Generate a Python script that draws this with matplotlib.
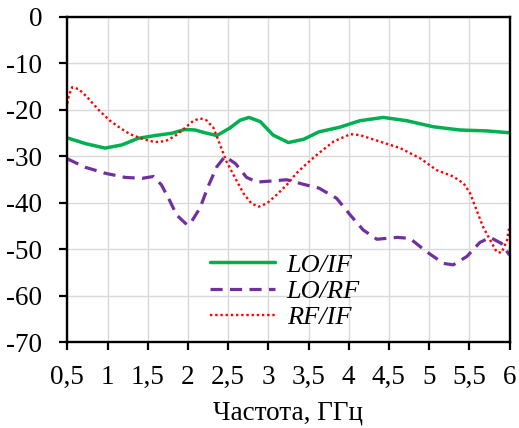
import matplotlib
matplotlib.use('Agg')
import matplotlib.pyplot as plt

# Частота, ГГц и развязки, дБ
f_lo_if = [0.5, 0.72, 0.97, 1.18, 1.38, 1.59, 1.8, 1.96, 2.09, 2.19, 2.36, 2.52, 2.65,
           2.76, 2.9, 3.06, 3.25, 3.44, 3.63, 3.89, 4.14, 4.43, 4.72, 5.05, 5.38,
           5.72, 6.0]
lo_if = [-26.0, -27.2, -28.2, -27.5, -26.1, -25.5, -25.0, -24.2, -24.3, -24.8, -25.5,
         -23.9, -22.2, -21.6, -22.5, -25.4, -27.0, -26.3, -24.7, -23.7, -22.3, -21.6,
         -22.3, -23.6, -24.3, -24.5, -24.9]

f_lo_rf = [0.5, 0.72, 0.97, 1.22, 1.43, 1.57, 1.67, 1.76, 1.86, 1.99, 2.03, 2.15, 2.25,
           2.36, 2.46, 2.59, 2.73, 2.86, 3.02, 3.23, 3.44, 3.63, 3.85, 4.02, 4.18,
           4.35, 4.6, 4.76, 4.97, 5.18, 5.3, 5.47, 5.63, 5.76, 5.9, 6.0]
lo_rf = [-30.5, -32.3, -33.6, -34.5, -34.7, -34.3, -36.1, -39.0, -42.6, -44.7, -44.4,
         -41.1, -36.5, -32.2, -30.0, -31.5, -34.5, -35.5, -35.3, -35.0, -36.0, -36.8,
         -39.0, -42.6, -45.8, -47.8, -47.4, -47.6, -50.5, -53.0, -53.3, -51.5, -48.5,
         -47.4, -48.7, -51.2]

f_rf_if = [0.5, 0.52, 0.56, 0.64, 0.74, 0.89, 1.03, 1.16, 1.28, 1.45, 1.59, 1.72, 1.84,
           1.96, 2.07, 2.15, 2.23, 2.32, 2.4, 2.48, 2.59, 2.69, 2.79, 2.88, 2.98, 3.1,
           3.23, 3.35, 3.48, 3.62, 3.81, 4.02, 4.14, 4.39, 4.64, 4.89, 5.09, 5.3, 5.43,
           5.51, 5.59, 5.67, 5.76, 5.84, 5.9, 5.97, 6.0]
rf_if = [-18.6, -16.8, -15.1, -15.5, -17.1, -20.0, -22.3, -23.9, -25.2, -26.3, -26.9,
         -26.7, -25.6, -23.9, -22.3, -21.8, -22.2, -23.9, -27.5, -31.1, -34.7, -37.9,
         -40.1, -40.8, -40.1, -38.3, -36.1, -33.6, -31.5, -29.4, -26.8, -25.2, -25.4,
         -26.8, -28.2, -30.4, -32.9, -34.3, -35.8, -37.9, -41.5, -45.1, -48.0, -50.5,
         -50.7, -48.0, -44.9]

x_ticks = [0.5, 1, 1.5, 2, 2.5, 3, 3.5, 4, 4.5, 5, 5.5, 6]
x_labels = ['0,5', '1', '1,5', '2', '2,5', '3', '3,5', '4', '4,5', '5', '5,5', '6']
y_ticks = [0, -10, -20, -30, -40, -50, -60, -70]

plt.rcParams['font.family'] = ['Liberation Serif', 'DejaVu Serif']
plt.rcParams['axes.unicode_minus'] = False

fig = plt.figure(figsize=(5.19, 4.28), dpi=100)
ax = fig.add_axes([0.1297, 0.1998, 0.8520, 0.7605])

ax.plot(f_lo_if, lo_if, color='#00B050', lw=2.5, label='LO/IF',
        solid_capstyle='round', solid_joinstyle='round')
ax.plot(f_lo_rf, lo_rf, color='#7030A0', lw=2.3, linestyle=(0, (3.8, 2.3)), label='LO/RF')
ax.plot(f_rf_if, rf_if, color='#FF0000', lw=1.7, linestyle=(0, (1, 1.2)), label='RF/IF')

ax.set_xlim(0.5, 6)
ax.set_ylim(-70, 0)
ax.set_xticks(x_ticks)
ax.set_xticklabels(x_labels)
ax.set_yticks(y_ticks)
ax.tick_params(direction='out', length=6, width=1.6, labelsize=19.5, pad=10, color='black')
ax.tick_params(axis='y', pad=12)
ax.grid(True, color='#D9D9D9', lw=1.0)
ax.set_axisbelow(True)
for s in ax.spines.values():
    s.set_linewidth(1.7)
    s.set_color('black')

ax.set_xlabel('Частота, ГГц', fontsize=19.5, labelpad=8)

leg = ax.legend(loc='center left', bbox_to_anchor=(0.323, 0.158), frameon=False,
                borderpad=0, borderaxespad=0, handlelength=2.45, handletextpad=0.45,
                labelspacing=0.1, prop={'family': 'Liberation Serif', 'style': 'italic', 'size': 19})

fig.savefig('out.png', dpi=100)
